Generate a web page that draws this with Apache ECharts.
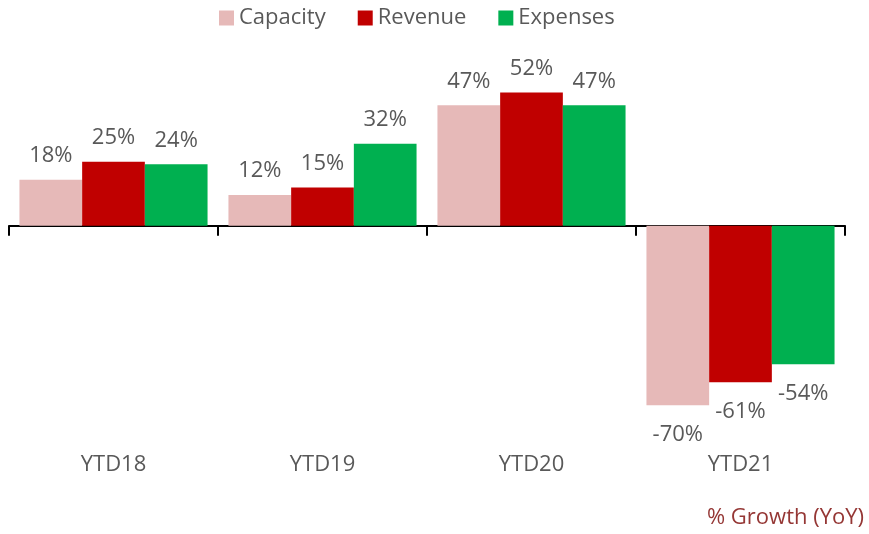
<!DOCTYPE html>
<html>
<head>
<meta charset="utf-8">
<script src="https://cdn.jsdelivr.net/npm/echarts@6/dist/echarts.min.js"></script>
<style>
  html, body { margin: 0; padding: 0; background: #fff; }
  #main { width: 869px; height: 534px; }
</style>
</head>
<body>
<div id="main"></div>
<script>
  // categories and series values (% growth YoY)
  var categories = ['YTD18', 'YTD19', 'YTD20', 'YTD21'];
  var capacity = [18, 12, 47, -70];
  var revenue = [25, 15, 52, -61];
  var expenses = [24, 32, 47, -54];

  var font = 'Open Sans';

  function barLabel(params) {
    return params.value + '%';
  }

  function makeSeries(name, data, color) {
    return {
      name: name,
      type: 'bar',
      data: data.map(function (v) {
        return {
          value: v,
          // negative bars get their label underneath
          label: v < 0 ? { position: 'bottom', distance: 18 } : { position: 'top', distance: 13 }
        };
      }),
      itemStyle: { color: color },
      barGap: '0%',
      barCategoryGap: '10%',
      label: {
        show: true,
        formatter: barLabel,
        color: '#595959',
        fontFamily: font,
        fontSize: 22
      }
    };
  }

  var myChart = echarts.init(document.getElementById('main'));
  myChart.setOption({
    animation: false,
    title: {
      text: '% Growth (YoY)',
      right: 0,
      bottom: 0,
      textStyle: { color: '#953735', fontFamily: font, fontSize: 22, fontWeight: 'normal' }
    },
    legend: {
      top: 2,
      left: 214,
      itemWidth: 15,
      itemHeight: 15,
      itemGap: 32,
      icon: 'rect',
      textStyle: { color: '#595959', fontFamily: font, fontSize: 22 },
      data: ['Capacity', 'Revenue', 'Expenses']
    },
    grid: { left: 9, right: 24, top: 72, bottom: 103 },
    xAxis: [
      {
        type: 'category',
        data: categories,
        axisLine: { onZero: true, lineStyle: { color: '#000', width: 2 } },
        axisTick: { show: true, length: 10, lineStyle: { color: '#000', width: 2 } },
        axisLabel: { show: false }
      },
      {
        type: 'category',
        data: categories,
        position: 'bottom',
        axisLine: { show: false, onZero: false },
        axisTick: { show: false },
        axisLabel: { color: '#595959', fontFamily: font, fontSize: 22, margin: 23 }
      }
    ],
    yAxis: {
      type: 'value',
      min: -80,
      max: 60,
      interval: 20,
      show: false,
      splitLine: { show: false }
    },
    series: [
      makeSeries('Capacity', capacity, '#E6B9B8'),
      makeSeries('Revenue', revenue, '#C00000'),
      makeSeries('Expenses', expenses, '#00B050')
    ]
  });
</script>
</body>
</html>
